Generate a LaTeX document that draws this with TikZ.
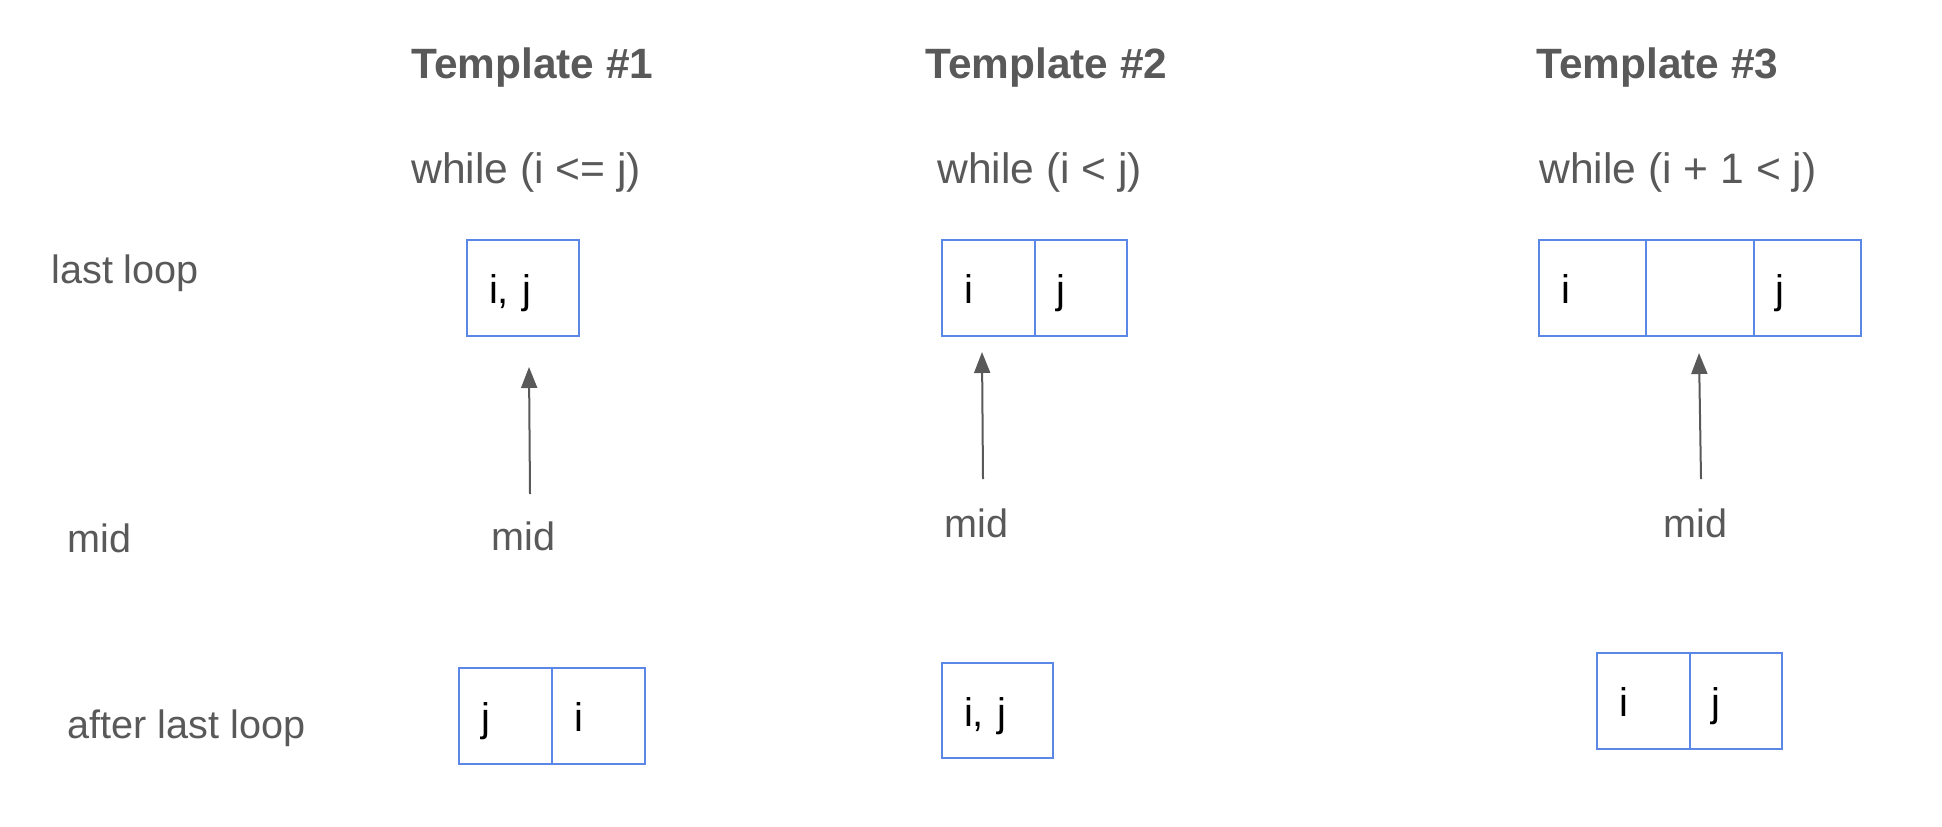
\documentclass[tikz,border=0pt]{standalone}
\usepackage{fontspec}
\setmainfont{Liberation Sans}
\usetikzlibrary{arrows.meta}

\definecolor{slidegray}{HTML}{595959}
\definecolor{boxblue}{HTML}{5B87E6}

\tikzstyle{heading}=[anchor=base west, inner sep=0pt, text=slidegray, font=\fontsize{21.2pt}{25pt}\selectfont\bfseries]
\tikzstyle{cond}=[anchor=base west, inner sep=0pt, text=slidegray, font=\fontsize{21.3pt}{25pt}\selectfont]
\tikzstyle{rowlabel}=[anchor=base west, inner sep=0pt, text=slidegray, font=\fontsize{19.8pt}{23pt}\selectfont]
\tikzstyle{cellbox}=[draw=boxblue, line width=1pt, minimum height=48pt, inner xsep=11pt, inner ysep=0pt, align=left, text height=15.75pt, text depth=0pt, font=\fontsize{20pt}{24pt}\selectfont]
\tikzstyle{ptr}=[draw=slidegray, line width=1pt, -{Triangle[length=10.5pt, width=8pt]}]

\begin{document}
\begin{tikzpicture}[x=0.5pt, y=-0.5pt]
	\useasboundingbox (0,0) rectangle (1942,826);

	% Column headings and loop conditions
	\node[heading] (h1) at (411,78) {Template \#1};
	\node[heading] (h2) at (925,78) {Template \#2};
	\node[heading] (h3) at (1536,78) {Template \#3};

	\node[cond] (w1) at (411,183) {while (i <= j)};
	\node[cond] (w2) at (937,183) {while (i < j)};
	\node[cond] (w3) at (1539,183) {while (i + 1 < j)};

	% Row labels
	\node[rowlabel] (r1) at (51,283) {last loop};
	\node[rowlabel] (r2) at (67,552) {mid};
	\node[rowlabel] (r3) at (67,738) {after last loop};

	% Last loop
	\node[cellbox, text width=34pt] (a1) at (523,287.5) {i, j};

	\node[cellbox, text width=24.25pt] (b1) at (988.25,287.5) {i};
	\node[cellbox, text width=24.25pt] (b2) at (1080.75,287.5) {j};

	\foreach \x/\t [count=\k] in {1592.67/i, 1700/, 1807.33/j}{
		\node[cellbox, text width=31.67pt] (c\k) at (\x,287.5) {\t};
	}

	% mid pointers
	\node[rowlabel] (m1) at (491,550) {mid};
	\node[rowlabel] (m2) at (944,537) {mid};
	\node[rowlabel] (m3) at (1663,537) {mid};

	\coordinate (p1) at (530,494);
	\coordinate (q1) at (529,367);
	\coordinate (p2) at (983,479);
	\coordinate (q2) at (982,352);
	\coordinate (p3) at (1701,479);
	\coordinate (q3) at (1699,353);
	\foreach \k in {1,2,3}{ \draw[ptr] (p\k) -- (q\k); }

	% After last loop
	\node[cellbox, text width=24.5pt] (d1) at (505.5,716) {j};
	\node[cellbox, text width=24.5pt] (d2) at (598.5,716) {i};

	\node[cellbox, text width=33.5pt, minimum height=47.5pt] (e1) at (997.5,710.5) {i, j};

	\node[cellbox, text width=24.25pt] (f1) at (1643.25,701) {i};
	\node[cellbox, text width=24.25pt] (f2) at (1735.75,701) {j};
\end{tikzpicture}
\end{document}
